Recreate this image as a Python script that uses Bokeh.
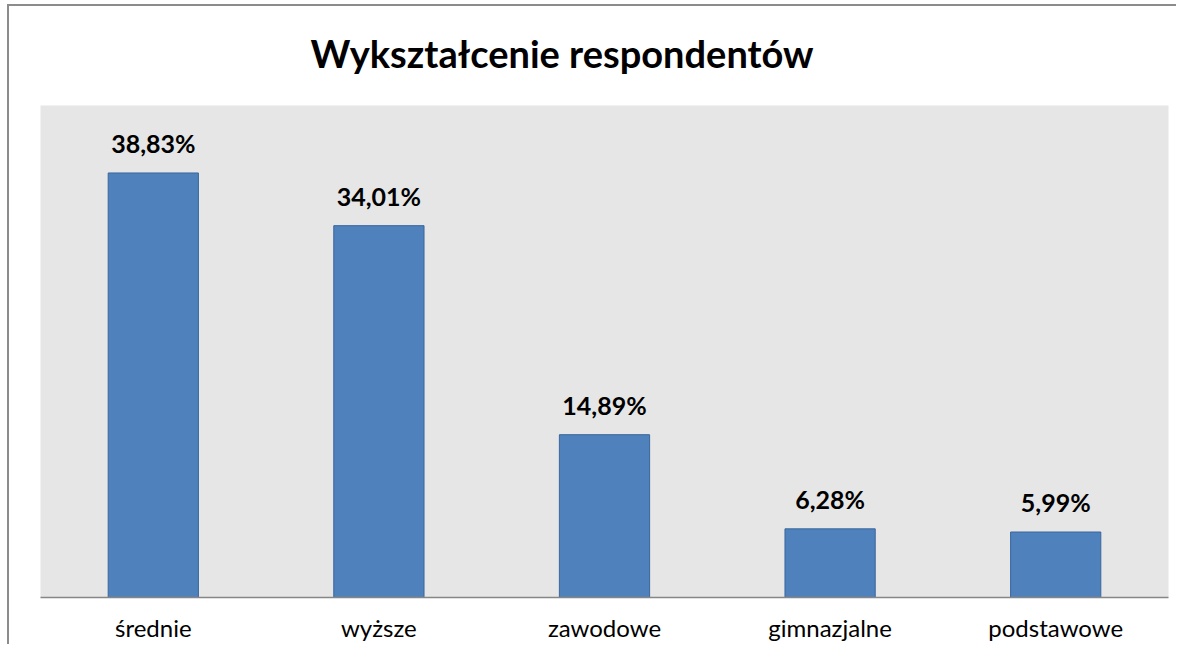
from bokeh.plotting import figure
from bokeh.models import ColumnDataSource, Range1d, GlobalInlineStyleSheet
from bokeh.core.properties import value
from bokeh.embed import file_html
from bokeh.resources import INLINE

categories = ["średnie", "wyższe", "zawodowe", "gimnazjalne", "podstawowe"]
values = [38.83, 34.01, 14.89, 6.28, 5.99]
labels = ["38,83%", "34,01%", "14,89%", "6,28%", "5,99%"]
title_text = "Wykształcenie respondentów"

src = ColumnDataSource(dict(cat=categories, val=values, lab=labels))

p = figure(x_range=categories, y_range=Range1d(0, 45), width=1176, height=644,
           output_backend="svg", toolbar_location=None,
           min_border_left=40, min_border_right=8, min_border_top=105, min_border_bottom=46)
p.styles = {
    "background": "linear-gradient(#8C8C8C, #8C8C8C) 7px 4px / 2px 100% no-repeat, "
                  "linear-gradient(#8C8C8C, #8C8C8C) 7px 4px / 100% 2px no-repeat, #FFFFFF",
}
p.stylesheets = [GlobalInlineStyleSheet(css="html, body { overflow: hidden !important; }")]

p.title.text = title_text
p.title.text_font = "Lato"
p.title.text_font_size = "38px"
p.title.text_font_style = "bold"
p.title.text_color = "#000000"
p.title.align = "left"
p.title.vertical_align = "middle"
p.title.offset = 270
p.title.standoff = 57

p.background_fill_color = "#E6E6E6"
p.border_fill_color = None
p.outline_line_color = None
p.xgrid.visible = False
p.ygrid.visible = False
p.yaxis.visible = False

p.vbar(x="cat", top="val", width=0.4, source=src, fill_color="#4F81BD",
       line_color="#3A679C", line_width=1)

p.text(x="cat", y="val", text="lab", source=src, y_offset=-30,
       text_align="center", text_baseline="alphabetic",
       text_font=value("Lato"), text_font_size="25px", text_font_style="bold",
       text_color="#000000")

ax = p.xaxis[0]
ax.axis_line_color = "#868686"
ax.axis_line_width = 1.5
ax.major_tick_line_color = None
ax.minor_tick_line_color = None
ax.major_label_text_font = "Lato"
ax.major_label_text_font_size = "24px"
ax.major_label_text_color = "#000000"
ax.major_label_standoff = 9

open("out.html", "w").write(file_html(p, INLINE))
